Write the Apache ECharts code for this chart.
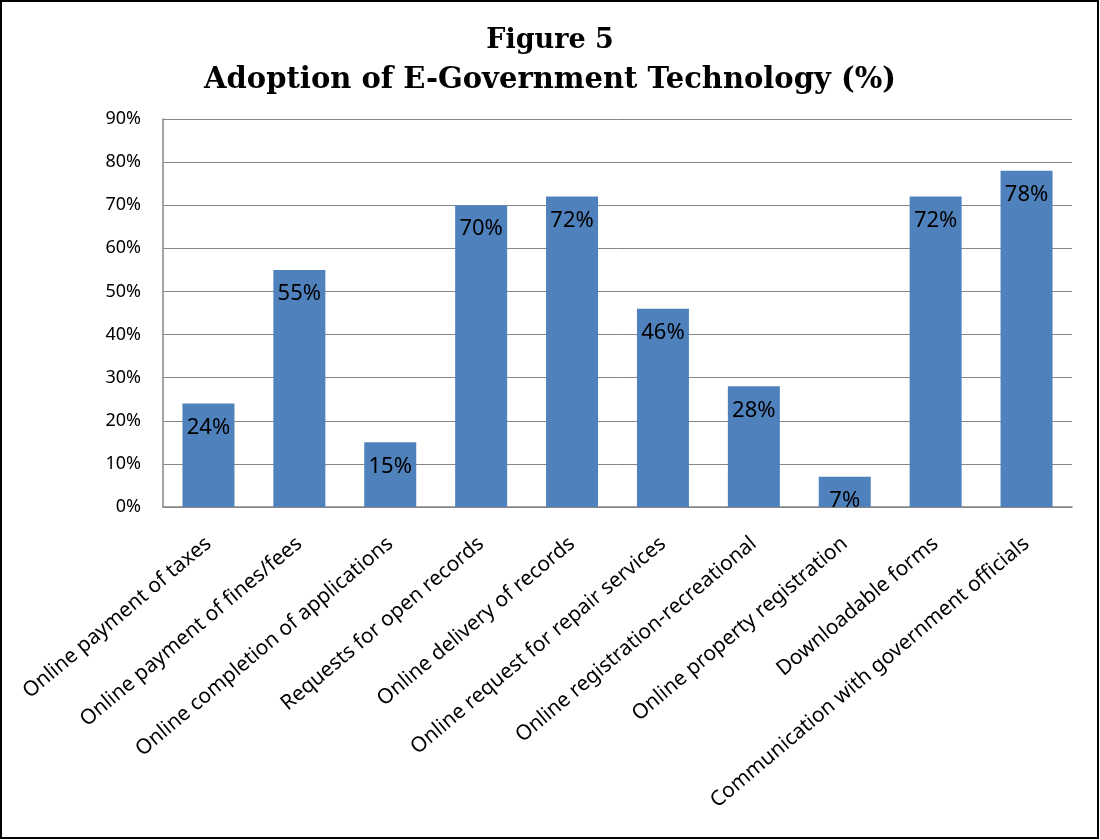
<!DOCTYPE html>
<html><head><meta charset="utf-8">
<script src="https://cdn.jsdelivr.net/npm/echarts@6/dist/echarts.min.js"></script>
<style>html,body{margin:0;padding:0;background:#fff}#c{width:1100px;height:840px}</style>
</head><body><div id="c"></div>
<script>
const categories = ["Online payment of taxes","Online payment of fines/fees","Online completion of applications","Requests for open records","Online delivery of records","Online request for repair services","Online registration-recreational","Online property registration","Downloadable forms","Communication with government officials"];
const values = [24, 55, 15, 70, 72, 46, 28, 7, 72, 78];
const titleLines = ["Figure 5", "Adoption of E-Government Technology (%)"];

const chart = echarts.init(document.getElementById('c'));
chart.setOption({
  animation: false,
  backgroundColor: '#fff',
  title: {
    text: '{a|' + titleLines[0] + '}\n{b|' + titleLines[1] + '}',
    left: 'center', top: 17,
    textStyle: {
      rich: {
        a: { fontFamily: 'DejaVu Serif', fontWeight: 'bold', fontSize: 27, lineHeight: 38, color: '#000', align: 'center' },
        b: { fontFamily: 'DejaVu Serif', fontWeight: 'bold', fontSize: 29, lineHeight: 40, color: '#000', align: 'center' }
      }
    }
  },
  graphic: [
    { type: 'rect', shape: { x: 1, y: 1, width: 1097, height: 837 }, style: { fill: 'none', stroke: '#000', lineWidth: 2 }, silent: true }
  ],
  grid: { left: 163, right: 28, top: 119, bottom: 333 },
  xAxis: {
    type: 'category', data: categories,
    axisLine: { lineStyle: { color: '#868686', width: 1.5 } },
    axisTick: { show: false },
    axisLabel: { rotate: 40, interval: 0, fontFamily: 'Noto Sans', fontSize: 20.8, color: '#000', margin: 34 }
  },
  yAxis: {
    type: 'value', min: 0, max: 90, interval: 10,
    axisLine: { show: true, lineStyle: { color: '#868686', width: 1.5 } },
    axisTick: { show: false },
    splitLine: { lineStyle: { color: '#868686', width: 1 } },
    axisLabel: { formatter: '{value}%', fontFamily: 'Noto Sans', fontSize: 18, color: '#000', margin: 22 }
  },
  series: [{
    type: 'bar', data: values, barWidth: 52,
    itemStyle: { color: '#4F81BD' },
    label: { show: true, position: 'insideTop', distance: 13, formatter: '{c}%', fontFamily: 'Noto Sans', fontSize: 22, color: '#000' }
  }]
});
</script></body></html>
